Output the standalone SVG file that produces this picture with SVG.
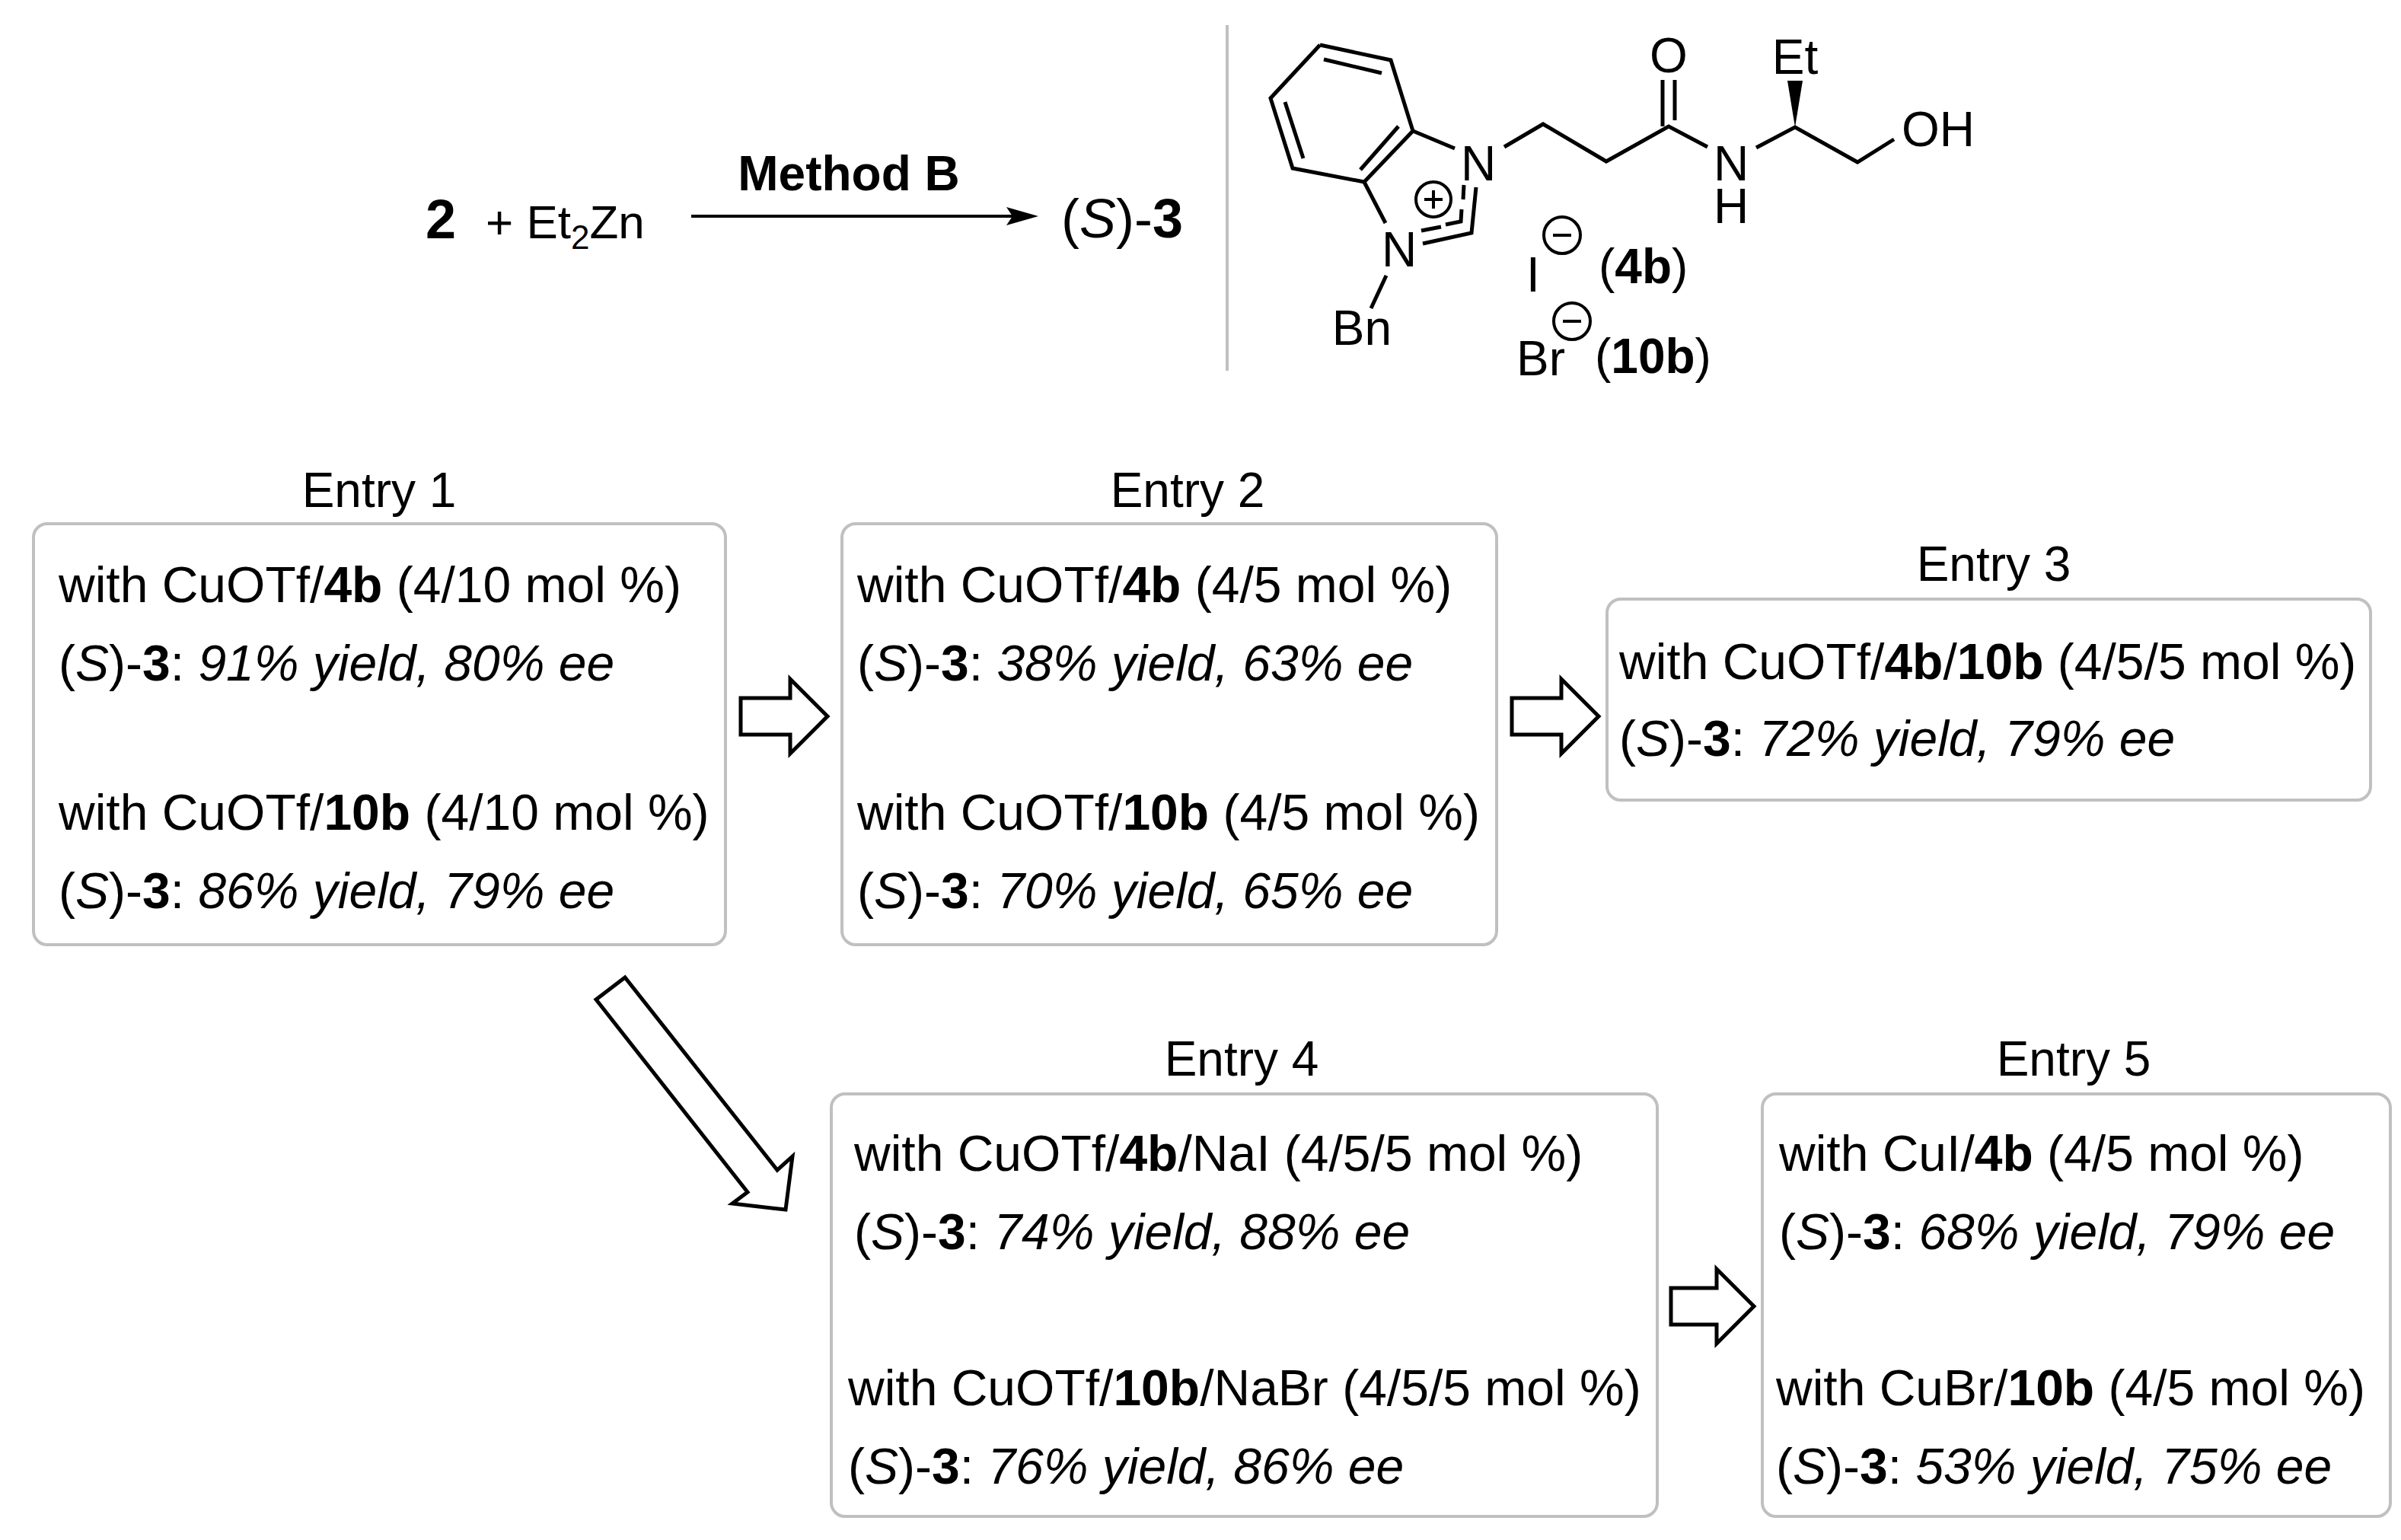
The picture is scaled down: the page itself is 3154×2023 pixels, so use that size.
<svg xmlns="http://www.w3.org/2000/svg" width="3154" height="2023" viewBox="0 0 3154 2023">
<style>
text{font-family:"Liberation Sans",Arial,sans-serif;fill:#000}
.t{font-size:66px}
.lab{font-size:64px;text-anchor:middle}
.ch{font-size:64px}
.b{font-weight:bold}
.i{font-style:italic}
.box{fill:#fff;stroke:#c0c0c0;stroke-width:4}
.bond{stroke:#000;stroke-width:5;fill:none;stroke-linecap:butt}
.blk{fill:#fff;stroke:#000;stroke-width:5;stroke-linejoin:miter}
</style>
<rect width="3154" height="2023" fill="#fff"/>
<g id="reaction">
<text x="559" y="313" style="font-size:72px" class="b">2</text>
<text x="638" y="313" style="font-size:62px">+ Et<tspan dy="14" style="font-size:44px">2</tspan><tspan dy="-14">Zn</tspan></text>
<text x="1115" y="250" style="font-size:64px;text-anchor:middle" class="b">Method B</text>
<line x1="908" y1="284" x2="1330" y2="284" stroke="#000" stroke-width="4"/>
<polygon points="1364,284 1322,272 1330,284 1322,296" fill="#000"/>
<text x="1394" y="312" style="font-size:72px">(<tspan class="i">S</tspan>)-<tspan class="b">3</tspan></text>
<line x1="1612" y1="33" x2="1612" y2="487" stroke="#c0c0c0" stroke-width="4"/>
</g>
<g id="structure">
<polyline class="bond" points="1734,59 1827,79 1856,172 1792,239 1698,221 1669,129 1734,59"/>
<line class="bond" x1="1739" y1="78" x2="1815" y2="96"/>
<line class="bond" x1="1688" y1="134" x2="1712" y2="208"/>
<line class="bond" x1="1837" y1="166" x2="1787" y2="223"/>
<line class="bond" x1="1856" y1="172" x2="1911" y2="195"/>
<text class="ch" x="1942" y="237" text-anchor="middle">N</text>
<polyline class="bond" points="1976,193 2027,163 2110,212 2192,166 2243,193"/>
<line class="bond" x1="2184" y1="166" x2="2184" y2="105"/>
<line class="bond" x1="2200" y1="158" x2="2200" y2="105"/>
<text class="ch" x="2192" y="95" text-anchor="middle">O</text>
<text class="ch" x="2274" y="237" text-anchor="middle">N</text>
<text class="ch" x="2274" y="293" text-anchor="middle">H</text>
<polyline class="bond" points="2307,194 2358,167 2440,213 2488,183"/>
<polygon points="2358,167 2348,106 2368,106" fill="#000"/>
<text class="ch" x="2358" y="97" text-anchor="middle">Et</text>
<text class="ch" x="2498" y="192">OH</text>
<line class="bond" x1="1792" y1="239" x2="1820" y2="293"/>
<text class="ch" x="1838" y="350" text-anchor="middle">N</text>
<polyline class="bond" points="1869,320 1933,306 1939,246"/>
<line class="bond" x1="1867" y1="303" x2="1893" y2="298"/>
<polyline class="bond" points="1899,295 1919,291 1920,275"/>
<line class="bond" x1="1922" y1="262" x2="1923" y2="243"/>
<circle cx="1883" cy="262" r="23" fill="none" stroke="#000" stroke-width="4"/>
<path d="M1871,262h24M1883,250v24" stroke="#000" stroke-width="4"/>
<line class="bond" x1="1821" y1="362" x2="1801" y2="405"/>
<text class="ch" x="1789" y="453" text-anchor="middle">Bn</text>
<text class="ch" x="2005" y="383">I</text>
<circle cx="2052" cy="309" r="24" fill="none" stroke="#000" stroke-width="4"/>
<line x1="2040" y1="309" x2="2064" y2="309" stroke="#000" stroke-width="4"/>
<text class="ch" x="2100" y="372">(<tspan class="b">4b</tspan>)</text>
<text class="ch" x="1992" y="493">Br</text>
<circle cx="2065" cy="422" r="24" fill="none" stroke="#000" stroke-width="4"/>
<line x1="2053" y1="422" x2="2077" y2="422" stroke="#000" stroke-width="4"/>
<text class="ch" x="2095" y="490">(<tspan class="b">10b</tspan>)</text>
</g>
<g id="entry1">
<text class="lab" x="498" y="666">Entry 1</text>
<rect class="box" x="44" y="688" width="909" height="553" rx="18"/>
<text class="t" x="77" y="791">with CuOTf/<tspan class="b">4b</tspan> (4/10 mol %)</text>
<text class="t" x="77" y="894">(<tspan class="i">S</tspan>)-<tspan class="b">3</tspan>: <tspan class="i">91% yield, 80% ee</tspan></text>
<text class="t" x="77" y="1090">with CuOTf/<tspan class="b">10b</tspan> (4/10 mol %)</text>
<text class="t" x="77" y="1193">(<tspan class="i">S</tspan>)-<tspan class="b">3</tspan>: <tspan class="i">86% yield, 79% ee</tspan></text>
</g>
<g id="entry2">
<text class="lab" x="1560" y="666">Entry 2</text>
<rect class="box" x="1106" y="688" width="860" height="553" rx="18"/>
<text class="t" x="1126" y="791">with CuOTf/<tspan class="b">4b</tspan> (4/5 mol %)</text>
<text class="t" x="1126" y="894">(<tspan class="i">S</tspan>)-<tspan class="b">3</tspan>: <tspan class="i">38% yield, 63% ee</tspan></text>
<text class="t" x="1126" y="1090">with CuOTf/<tspan class="b">10b</tspan> (4/5 mol %)</text>
<text class="t" x="1126" y="1193">(<tspan class="i">S</tspan>)-<tspan class="b">3</tspan>: <tspan class="i">70% yield, 65% ee</tspan></text>
</g>
<g id="entry3">
<text class="lab" x="2619" y="763">Entry 3</text>
<rect class="box" x="2111" y="787" width="1003" height="264" rx="18"/>
<text class="t" x="2127" y="892">with CuOTf/<tspan class="b">4b</tspan>/<tspan class="b">10b</tspan> (4/5/5 mol %)</text>
<text class="t" x="2127" y="993">(<tspan class="i">S</tspan>)-<tspan class="b">3</tspan>: <tspan class="i">72% yield, 79% ee</tspan></text>
</g>
<g id="entry4">
<text class="lab" x="1631" y="1413">Entry 4</text>
<rect class="box" x="1092" y="1437" width="1085" height="555" rx="18"/>
<text class="t" x="1122" y="1538">with CuOTf/<tspan class="b">4b</tspan>/NaI (4/5/5 mol %)</text>
<text class="t" x="1122" y="1641">(<tspan class="i">S</tspan>)-<tspan class="b">3</tspan>: <tspan class="i">74% yield, 88% ee</tspan></text>
<text class="t" x="1114" y="1846">with CuOTf/<tspan class="b">10b</tspan>/NaBr (4/5/5 mol %)</text>
<text class="t" x="1114" y="1949">(<tspan class="i">S</tspan>)-<tspan class="b">3</tspan>: <tspan class="i">76% yield, 86% ee</tspan></text>
</g>
<g id="entry5">
<text class="lab" x="2724" y="1413">Entry 5</text>
<rect class="box" x="2315" y="1437" width="825" height="555" rx="18"/>
<text class="t" x="2337" y="1538">with CuI/<tspan class="b">4b</tspan> (4/5 mol %)</text>
<text class="t" x="2337" y="1641">(<tspan class="i">S</tspan>)-<tspan class="b">3</tspan>: <tspan class="i">68% yield, 79% ee</tspan></text>
<text class="t" x="2333" y="1846">with CuBr/<tspan class="b">10b</tspan> (4/5 mol %)</text>
<text class="t" x="2333" y="1949">(<tspan class="i">S</tspan>)-<tspan class="b">3</tspan>: <tspan class="i">53% yield, 75% ee</tspan></text>
</g>
<g id="connectors">
<polygon class="blk" points="973,917 1038,917 1038,892 1087,941 1038,990 1038,965 973,965"/>
<polygon class="blk" points="1986,917 2051,917 2051,892 2100,941 2051,990 2051,965 1986,965"/>
<polygon class="blk" points="2195,1692 2255,1692 2255,1667 2304,1716 2255,1765 2255,1740 2195,1740"/>
<polygon class="blk" points="783,1313 821,1284 1021,1537 1041,1519 1032,1589 962,1581 982,1566"/>
</g>
</svg>
